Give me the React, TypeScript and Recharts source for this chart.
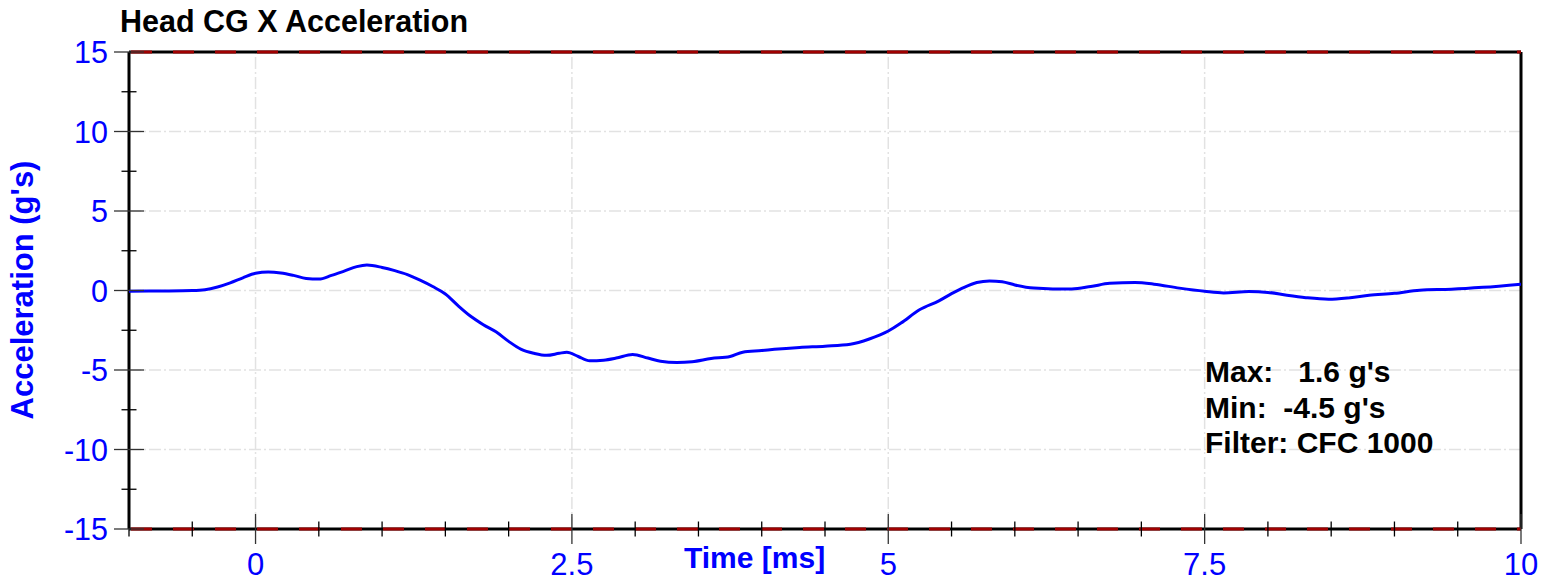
import React from "react";
import { LineChart, Line, XAxis, YAxis, ReferenceLine } from "recharts";

// time [ms] and head CG X acceleration [g's]
const time = [
  -1.0, -0.75, -0.5, -0.4, -0.3, -0.2, -0.1, 0.0, 0.1, 0.2, 0.3, 0.4, 0.5, 0.6,
  0.7, 0.8, 0.88, 1.0, 1.1, 1.2, 1.3, 1.4, 1.5, 1.6, 1.7, 1.8, 1.9, 2.0, 2.1,
  2.2, 2.3, 2.4, 2.46, 2.55, 2.64, 2.75, 2.85, 2.98, 3.1, 3.2, 3.33, 3.45, 3.6,
  3.75, 3.85, 4.0, 4.1, 4.3, 4.5, 4.7, 4.85, 5.0, 5.1, 5.25, 5.4, 5.5, 5.6,
  5.7, 5.8, 5.9, 6.0, 6.15, 6.3, 6.45, 6.6, 6.75, 6.95, 7.1, 7.3, 7.5, 7.65,
  7.85, 8.0, 8.15, 8.3, 8.48, 8.65, 8.8, 9.0, 9.2, 9.45, 9.7, 10.0,
];
const accel = [
  -0.05, -0.03, 0.0, 0.05, 0.22, 0.48, 0.8, 1.08, 1.16, 1.1, 0.95, 0.76, 0.72,
  0.95, 1.22, 1.5, 1.6, 1.45, 1.25, 1.0, 0.65, 0.25, -0.22, -0.95, -1.62,
  -2.15, -2.6, -3.2, -3.7, -3.95, -4.08, -3.95, -3.88, -4.15, -4.42, -4.38,
  -4.25, -4.02, -4.25, -4.45, -4.53, -4.48, -4.28, -4.15, -3.88, -3.78, -3.7,
  -3.58, -3.5, -3.38, -3.05, -2.55, -2.05, -1.2, -0.65, -0.2, 0.2, 0.5, 0.6,
  0.55, 0.35, 0.15, 0.1, 0.1, 0.25, 0.45, 0.5, 0.4, 0.15, -0.05, -0.15, -0.07,
  -0.12, -0.3, -0.45, -0.55, -0.45, -0.3, -0.18, 0.02, 0.08, 0.2, 0.4,
];

const xTicks = [
  -1, -0.5, 0, 0.5, 1, 1.5, 2, 2.5, 3, 3.5, 4, 4.5, 5, 5.5, 6, 6.5, 7, 7.5, 8,
  8.5, 9, 9.5, 10,
];
const yTicks = [-15, -12.5, -10, -7.5, -5, -2.5, 0, 2.5, 5, 7.5, 10, 12.5, 15];
const xGrid = [0, 2.5, 5, 7.5];
const yGrid = [-10, -5, 0, 5, 10];
const limits = [-15, 15];
const stats = ["Max:   1.6 g's", "Min:  -4.5 g's", "Filter: CFC 1000"];

const data = time.map((t, i) => ({ t, a: accel[i] }));

const FONT = "'Liberation Sans', Arial, sans-serif";
const BLUE = "#0000ff";

const isMajor = (v: number, step: number) =>
  Math.abs(v / step - Math.round(v / step)) < 1e-6;

const XTick = (props: any) => {
  const { x, y, payload } = props;
  const major = isMajor(payload.value, 2.5);
  const len = major ? 15 : 7.5;
  return (
    <g>
      <line x1={x} x2={x} y1={y - len} y2={y + len} stroke={major ? "#333" : "#000"} strokeWidth={1.3} />
      {major && (
        <text x={x} y={575} textAnchor="middle" fill={BLUE} fontSize={31} fontFamily={FONT}>
          {payload.value}
        </text>
      )}
    </g>
  );
};

const YTick = (props: any) => {
  const { x, y, payload } = props;
  const major = isMajor(payload.value, 5);
  const len = major ? 15 : 7.5;
  return (
    <g>
      <line x1={x - len} x2={x + len} y1={y} y2={y} stroke={major ? "#333" : "#000"} strokeWidth={1.3} />
      {major && (
        <text x={108} y={y + 11} textAnchor="end" fill={BLUE} fontSize={30.5} fontFamily={FONT}>
          {payload.value}
        </text>
      )}
    </g>
  );
};

const App = () => {
  return (
    <div style={{ position: "absolute", left: 0, top: 0, width: 1555, height: 583, background: "#fff" }}>
      <LineChart
        width={1555}
        height={583}
        data={data}
        margin={{ top: 52, right: 34, bottom: 0, left: 0 }}
      >
        {xGrid.map((v) => (
          <ReferenceLine key={"gx" + v} x={v} stroke="#e2e2e2" strokeWidth={1.5} strokeDasharray="12 3 2 3" />
        ))}
        {yGrid.map((v) => (
          <ReferenceLine key={"gy" + v} y={v} stroke="#e2e2e2" strokeWidth={1.5} strokeDasharray="12 3 2 3" />
        ))}
        <XAxis
          dataKey="t"
          type="number"
          domain={[-1, 10]}
          ticks={xTicks}
          interval={0}
          height={54}
          tickSize={0}
          tickMargin={0}
          tick={<XTick />}
          axisLine={false}
          allowDataOverflow
        />
        <YAxis
          type="number"
          domain={[-15, 15]}
          ticks={yTicks}
          interval={0}
          width={129}
          tickSize={0}
          tickMargin={0}
          tick={<YTick />}
          axisLine={false}
          allowDataOverflow
        />
        <ReferenceLine x={-1} stroke="#000" strokeWidth={3} />
        <ReferenceLine x={10} stroke="#000" strokeWidth={3} />
        {limits.map((v) => (
          <ReferenceLine key={"lb" + v} y={v} stroke="#000" strokeWidth={3} />
        ))}
        {limits.map((v) => (
          <ReferenceLine
            key={"lr" + v}
            y={v}
            stroke="#a00000"
            strokeWidth={3}
            strokeDasharray="21 21"
            strokeDashoffset={-2}
          />
        ))}
        <Line
          dataKey="a"
          type="monotone"
          stroke={BLUE}
          strokeWidth={3}
          dot={false}
          isAnimationActive={false}
        />
      </LineChart>
      <svg
        width={1555}
        height={583}
        style={{ position: "absolute", left: 0, top: 0, pointerEvents: "none" }}
      >
        <text x={120} y={32} fontSize={30.5} fontWeight="bold" fontFamily={FONT} fill="#000">
          Head CG X Acceleration
        </text>
        <text
          x={33}
          y={290}
          transform="rotate(-90 33 290)"
          textAnchor="middle"
          fontSize={31}
          fontWeight="bold"
          fontFamily={FONT}
          fill={BLUE}
        >
          Acceleration (g's)
        </text>
        <text x={684} y={568} fontSize={30} fontWeight="bold" fontFamily={FONT} fill={BLUE}>
          Time [ms]
        </text>
        {stats.map((s, i) => (
          <text
            key={s}
            x={1205}
            y={382 + i * 35.5}
            fontSize={30}
            fontWeight="bold"
            fontFamily={FONT}
            fill="#000"
            style={{ whiteSpace: "pre" }}
          >
            {s}
          </text>
        ))}
      </svg>
    </div>
  );
};

export default App;
